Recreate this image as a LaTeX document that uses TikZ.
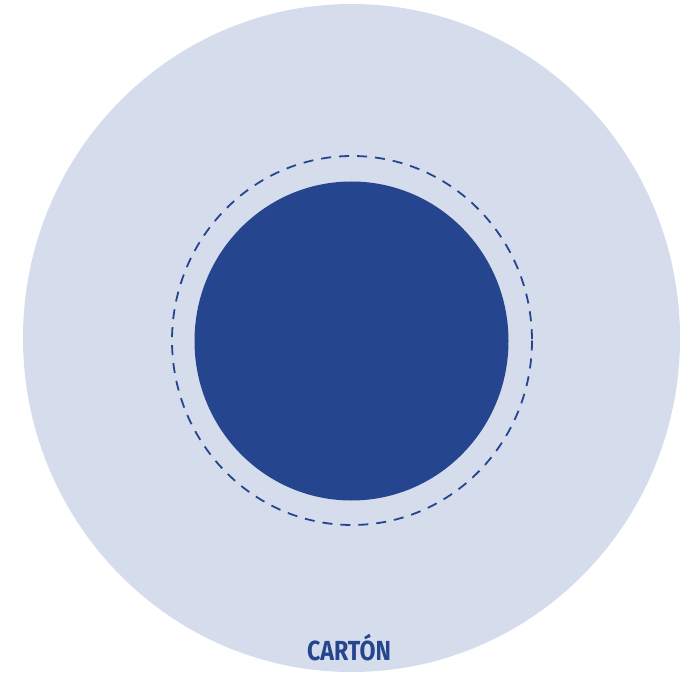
\documentclass[tikz,border=0pt]{standalone}
\usepackage{fontspec}
\setmainfont{Fira Sans}
\newfontfamily\labelfont[FakeStretch=0.84]{Fira Sans Bold}
\usepackage{xcolor}
\usepackage{tikz}
\definecolor{cartonlight}{HTML}{D5DCEC}
\definecolor{cartondark}{HTML}{25468E}

\begin{document}
\begin{tikzpicture}[x=1pt,y=-1pt]
  \useasboundingbox (0,0) rectangle (686,676);
  % outer disc
  \fill[cartonlight] (351.5,338) ellipse [x radius=328.5,y radius=334];
  % dashed ring
  \draw[cartondark,line width=1.8pt,dash pattern=on 10pt off 8pt]
    (352,340.5) ellipse [x radius=180,y radius=184.5];
  % inner disc
  \fill[cartondark] (351.5,341) ellipse [x radius=157,y radius=159.5];
  % label
  \node[text=cartondark,font=\labelfont\fontsize{27.6}{30}\selectfont,inner sep=0pt]
    (carton) at (349,647.5) {CARTÓN};
\end{tikzpicture}
\end{document}
